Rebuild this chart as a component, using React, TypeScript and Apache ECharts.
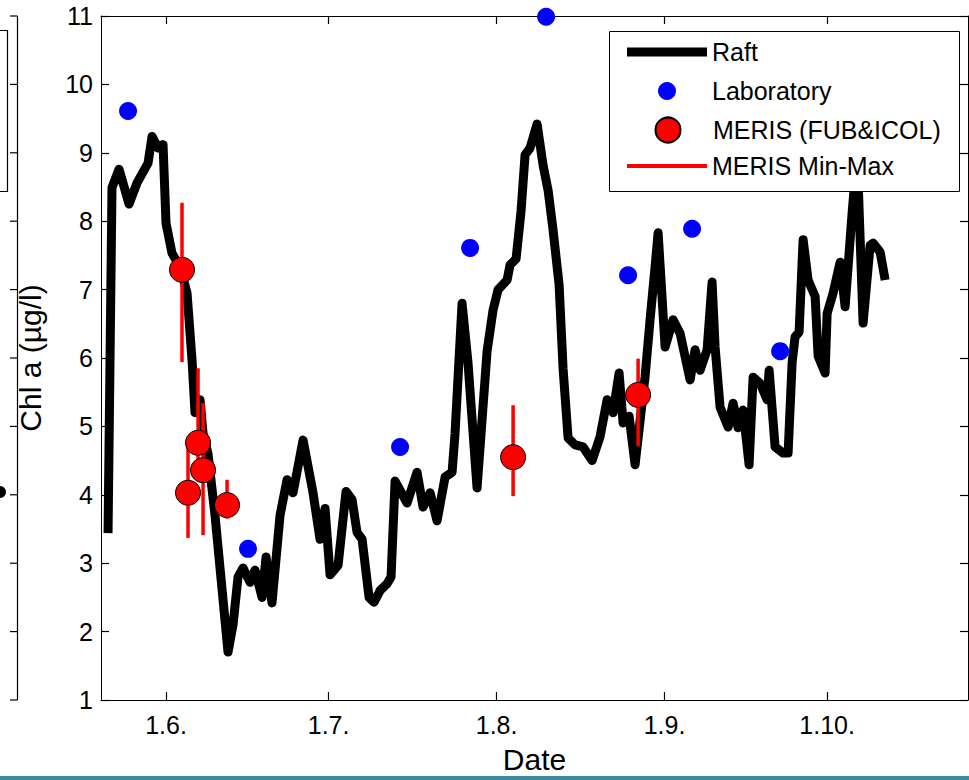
import React, { useEffect, useRef } from "react";
import * as echarts from "echarts";

// x values: days since 1 June; y values: Chl a (µg/l)
const raftDays = [
  -10.7, -9.97, -8.67, -6.83, -5.35, -3.32, -2.58, -1.48, -0.55, 0, 1.11, 2.58, 3.88, 4.8, 5.35, 6.28,
  6.83, 7.75, 9.04, 11.44, 12.37, 13.29, 14.21, 15.5, 16.43, 17.72, 18.46, 19.56, 21.04, 22.33, 23.44,
  25.29, 27.13, 28.42, 29.35, 30.27, 31.75, 33.22, 34.33, 35.25, 36.18, 37.47, 38.39, 39.5, 40.79,
  41.53, 42.27, 44.48, 46.33, 47.43, 48.73, 50.02, 51.5, 52.79, 53.34, 54.63, 55.74, 57.4, 59.25,
  60.35, 61.28, 62.94, 63.49, 64.6, 65.52, 66.26, 67.18, 68.48, 69.58, 70.51, 71.43, 72.54, 73.27,
  74.2, 75.49, 76.97, 78.63, 80.1, 81.4, 82.5, 83.61, 84.35, 85.46, 86.56, 88.41, 89.33, 90.25, 90.81,
  92.1, 93.58, 94.87, 96.71, 97.64, 98.56, 99.85, 100.77, 101.33, 102.25, 103.73, 104.65, 105.57,
  106.5, 107.6, 108.34, 109.63, 110.93, 111.3, 112.4, 113.88, 114.8, 115.54, 116.09, 116.83, 117.57,
  118.49, 119.79, 120.34, 121.63, 122.0, 123.11, 124.4, 125.32, 126.61, 127.54, 128.64, 129.94,
  130.49, 131.78, 132.71,
];
const raftValues = [
  3.44, 8.49, 8.76, 8.25, 8.56, 8.85, 9.24, 9.07, 9.12, 7.97, 7.53, 7.33, 6.95, 5.97, 5.2, 5.39,
  4.9, 4.6, 3.7, 1.7, 2.1, 2.8, 2.93, 2.72, 2.9, 2.5, 3.09, 2.42, 3.7, 4.22, 4.03,
  4.8, 4.03, 3.35, 3.8, 2.83, 2.97, 4.05, 3.93, 3.45, 3.35, 2.5, 2.43, 2.6, 2.7,
  2.8, 4.2, 3.88, 4.33, 3.82, 4.03, 3.62, 4.26, 4.33, 4.9, 6.8, 5.92, 4.1, 6.1,
  6.7, 7.0, 7.14, 7.36, 7.45, 8.15, 8.97, 9.07, 9.42, 8.82, 8.45, 7.87, 7.07, 5.85,
  4.83, 4.73, 4.7, 4.5, 4.85, 5.39, 5.2, 5.78, 5.05, 5.15, 4.44, 5.73, 6.56, 7.33, 7.83,
  6.16, 6.56, 6.36, 5.68, 6.12, 5.82, 6.12, 7.11, 6.16, 5.28, 4.99, 5.34, 4.98,
  5.24, 4.44, 5.72, 5.63, 5.39, 5.82, 4.7, 4.61, 4.61, 5.93, 6.31, 6.38, 7.73,
  7.14, 6.9, 6.03, 5.78, 6.65, 6.95, 7.4, 6.75, 8.12, 9.0, 6.51, 7.65,
  7.68, 7.55, 7.14,
];

const labDays = [-7.01, 15.13, 43.19, 56.11, 70.14, 85.27, 97.08, 113.33];
const labValues = [9.61, 3.21, 4.7, 7.61, 10.99, 7.21, 7.89, 6.1];

const merisDays = [2.95, 4.06, 5.91, 6.83, 11.26, 64.05, 87.12];
const merisValues = [7.29, 4.03, 4.76, 4.36, 3.85, 4.55, 5.46];
const merisMin = [5.94, 3.37, 4.35, 3.41, 3.65, 3.98, 4.71];
const merisMax = [8.27, 4.84, 5.85, 5.34, 4.22, 5.31, 5.99];

const dateTicks = [0, 30, 61, 92, 122];
const dateLabels = ["1.6.", "1.7.", "1.8.", "1.9.", "1.10."];
const yTicks = [1, 2, 3, 4, 5, 6, 7, 8, 9, 10, 11];
const dateMin = -12;
const dateMax = 148;

const FONT = "'Liberation Sans', Arial, sans-serif";

export default function App() {
  const ref = useRef<HTMLDivElement>(null);

  useEffect(() => {
    if (!ref.current) return;
    const chart = echarts.init(ref.current, null, { renderer: "svg" });

    const raftData = raftDays.map((d, i) => [d, raftValues[i]]);
    const labData = labDays.map((d, i) => [d, labValues[i]]);
    const merisData = merisDays.map((d, i) => [d, merisValues[i]]);
    const barData = merisDays.map((d, i) => [d, merisMin[i], merisMax[i]]);

    const fmt = (v: number) => {
      const i = dateTicks.indexOf(v);
      return i >= 0 ? dateLabels[i] : "";
    };

    const legendBase = {
      orient: "vertical",
      itemWidth: 80,
      padding: 0,
      selectedMode: false,
      z: 11,
      textStyle: { fontSize: 25, color: "#000", fontFamily: FONT },
    };

    const mkTick = () => ({ show: true, inside: true, length: 8, lineStyle: { color: "#000", width: 1.2 } });
    const mkLine = () => ({ show: true, onZero: false, lineStyle: { color: "#000", width: 1 } });

    chart.setOption({
      animation: false,
      backgroundColor: "#fff",
      textStyle: { fontFamily: FONT },
      grid: { left: 101, top: 16, right: 1, bottom: 80, containLabel: false },
      xAxis: [
        {
          type: "value",
          min: dateMin,
          max: dateMax,
          name: "Date",
          nameLocation: "middle",
          nameGap: 44,
          nameTextStyle: { fontSize: 30, color: "#000", fontFamily: FONT },
          axisLine: mkLine(),
          axisTick: { ...mkTick(), customValues: dateTicks },
          axisLabel: { show: true, customValues: dateTicks, formatter: fmt, fontSize: 25, color: "#000", margin: 12, fontFamily: FONT },
          splitLine: { show: false },
        },
        {
          type: "value",
          position: "top",
          min: dateMin,
          max: dateMax,
          axisLine: mkLine(),
          axisTick: { ...mkTick(), customValues: dateTicks },
          axisLabel: { show: false, customValues: dateTicks },
          splitLine: { show: false },
        },
      ],
      yAxis: [
        {
          type: "value",
          min: 1,
          max: 11,
          interval: 1,
          name: "Chl a (µg/l)",
          nameLocation: "middle",
          nameGap: 56,
          nameTextStyle: { fontSize: 30, color: "#000", fontFamily: FONT },
          axisLine: mkLine(),
          axisTick: mkTick(),
          axisLabel: { fontSize: 25, color: "#000", margin: 8, fontFamily: FONT },
          splitLine: { show: false },
        },
        {
          type: "value",
          position: "right",
          min: 1,
          max: 11,
          interval: 1,
          axisLine: mkLine(),
          axisTick: mkTick(),
          axisLabel: { show: false },
          splitLine: { show: false },
        },
      ],
      legend: [
        {
          ...legendBase,
          left: 627,
          top: 39.5,
          itemHeight: 9,
          data: [{ name: "Raft", icon: "rect", itemStyle: { color: "#000" } }],
        },
        {
          ...legendBase,
          left: 658,
          top: 78.5,
          itemHeight: 18,
          data: [{ name: "Laboratory", icon: "circle" }],
        },
        {
          ...legendBase,
          left: 654.5,
          top: 116.5,
          itemHeight: 25,
          data: [{ name: "MERIS (FUB&ICOL)", icon: "circle" }],
        },
        {
          ...legendBase,
          left: 627,
          top: 153.5,
          itemHeight: 4,
          data: [{ name: "MERIS Min-Max", icon: "rect", itemStyle: { color: "#ff0000" } }],
        },
      ],
      series: [
        {
          name: "Raft",
          type: "line",
          data: raftData,
          symbol: "none",
          showSymbol: false,
          z: 2,
          itemStyle: { color: "#000" },
          lineStyle: { color: "#000", width: 9, join: "round", cap: "butt" },
        },
        {
          name: "MERIS Min-Max",
          type: "custom",
          data: barData,
          z: 3,
          itemStyle: { color: "#ff0000" },
          encode: { x: 0, y: [1, 2] },
          renderItem: (params: any, api: any) => {
            const top = api.coord([api.value(0), api.value(2)]);
            const bot = api.coord([api.value(0), api.value(1)]);
            return {
              type: "line",
              shape: { x1: top[0], y1: top[1], x2: bot[0], y2: bot[1] },
              style: { stroke: "#ff0000", lineWidth: 3.5 },
            };
          },
        },
        {
          name: "Laboratory",
          type: "scatter",
          data: labData,
          symbol: "circle",
          symbolSize: 18,
          clip: false,
          z: 4,
          itemStyle: { color: "#0000ff", opacity: 1 },
        },
        {
          name: "MERIS (FUB&ICOL)",
          type: "scatter",
          data: merisData,
          symbol: "circle",
          symbolSize: 25,
          clip: false,
          z: 5,
          itemStyle: { color: "#ff0000", borderColor: "#000", borderWidth: 1, opacity: 1 },
        },
      ],
    });

    // cropped neighbouring panel edge, legend frame and bottom band
    const toY = (v: number) => {
      const p: any = chart.convertToPixel({ gridIndex: 0 }, [0, v]);
      return Number(p[1]);
    };
    const tickYs = yTicks.map(toY);
    const yB = tickYs[0];
    const yT = tickYs[tickYs.length - 1];

    const graphics: any[] = [
      {
        type: "rect",
        z: 10,
        shape: { x: 609.5, y: 31.5, width: 350, height: 160 },
        style: { fill: "#fff", stroke: "#000", lineWidth: 1 },
      },
      {
        type: "line",
        z: 10,
        shape: { x1: 17.5, y1: yT, x2: 17.5, y2: yB },
        style: { stroke: "#000", lineWidth: 1.2 },
      },
      {
        type: "polyline",
        z: 10,
        shape: { points: [[0, 30.5], [7.5, 30.5], [7.5, 191.5], [0, 191.5]] },
        style: { stroke: "#000", lineWidth: 1.2, fill: "none" },
      },
      { type: "circle", z: 10, shape: { cx: 0, cy: 492, r: 6 }, style: { fill: "#000" } },
      {
        type: "rect",
        z: 10,
        shape: { x: 0, y: 776, width: 969, height: 4 },
        style: { fill: "#3a8a9c" },
      },
    ];
    tickYs.forEach((y) => {
      graphics.push({
        type: "line",
        z: 10,
        silent: true,
        shape: { x1: 10, y1: y, x2: 17.5, y2: y },
        style: { stroke: "#000", lineWidth: 1.2 },
      });
    });
    chart.setOption({ graphic: graphics });

    return () => chart.dispose();
  }, []);

  return (
    <div
      ref={ref}
      style={{ position: "fixed", left: 0, top: 0, width: 969, height: 780, background: "#fff" }}
    />
  );
}
